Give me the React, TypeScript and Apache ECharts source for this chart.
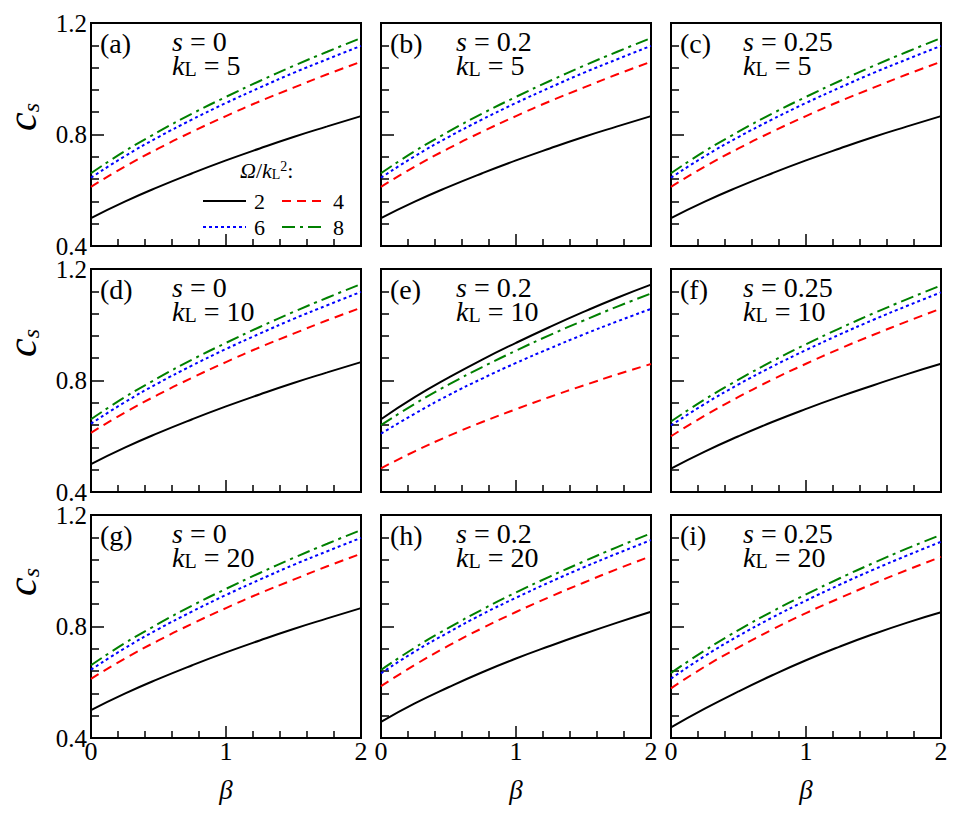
import React, { useEffect, useRef } from "react";
import * as echarts from "echarts";

const FONT = "Liberation Serif";

const betas = [0, 0.25, 0.5, 0.75, 1, 1.25, 1.5, 1.75, 2];
const ratioNames = ["2", "4", "6", "8"];
const xTickValues = [0, 1, 2];
const yTickValues = [0.4, 0.8, 1.2];

// panels (a), (b), (c), (d), (g)
const base2 = [0.5, 0.559, 0.612, 0.661, 0.707, 0.75, 0.791, 0.829, 0.866];
const base4 = [0.612, 0.685, 0.75, 0.81, 0.866, 0.919, 0.968, 1.016, 1.061];
const base6 = [0.645, 0.722, 0.791, 0.854, 0.913, 0.968, 1.021, 1.07, 1.118];
const base8 = [0.661, 0.74, 0.81, 0.875, 0.935, 0.992, 1.046, 1.097, 1.146];
// panel (e)
const e2 = [0.661, 0.74, 0.81, 0.875, 0.935, 0.992, 1.046, 1.097, 1.144];
const e4 = [0.485, 0.546, 0.601, 0.651, 0.697, 0.741, 0.782, 0.822, 0.859];
const e6 = [0.609, 0.681, 0.747, 0.807, 0.863, 0.915, 0.965, 1.012, 1.057];
const e8 = [0.64, 0.716, 0.785, 0.848, 0.907, 0.963, 1.015, 1.065, 1.112];
// panel (f)
const f2 = [0.484, 0.545, 0.6, 0.651, 0.698, 0.742, 0.783, 0.823, 0.86];
const f4 = [0.6, 0.674, 0.741, 0.803, 0.86, 0.914, 0.964, 1.012, 1.058];
const f6 = [0.639, 0.716, 0.786, 0.85, 0.909, 0.965, 1.018, 1.068, 1.116];
const f8 = [0.653, 0.732, 0.803, 0.869, 0.93, 0.987, 1.041, 1.092, 1.141];
// panel (h)
const h2 = [0.458, 0.524, 0.582, 0.636, 0.685, 0.73, 0.773, 0.814, 0.853];
const h4 = [0.586, 0.662, 0.731, 0.794, 0.852, 0.906, 0.957, 1.006, 1.052];
const h6 = [0.632, 0.71, 0.779, 0.844, 0.903, 0.959, 1.012, 1.062, 1.11];
const h8 = [0.644, 0.724, 0.795, 0.861, 0.922, 0.979, 1.033, 1.085, 1.134];
// panel (i)
const i2 = [0.438, 0.505, 0.567, 0.625, 0.679, 0.728, 0.773, 0.814, 0.851];
const i4 = [0.578, 0.656, 0.725, 0.789, 0.848, 0.902, 0.954, 1.003, 1.05];
const i6 = [0.613, 0.694, 0.766, 0.832, 0.893, 0.95, 1.004, 1.055, 1.104];
const i8 = [0.633, 0.714, 0.787, 0.854, 0.915, 0.973, 1.028, 1.08, 1.129];

const panelLetters = ["a", "b", "c", "d", "e", "f", "g", "h", "i"];
const sValues = ["0", "0.2", "0.25", "0", "0.2", "0.25", "0", "0.2", "0.25"];
const kValues = ["5", "5", "5", "10", "10", "10", "20", "20", "20"];
const panelCurves = [
  [base2, base4, base6, base8],
  [base2, base4, base6, base8],
  [base2, base4, base6, base8],
  [base2, base4, base6, base8],
  [e2, e4, e6, e8],
  [f2, f4, f6, f8],
  [base2, base4, base6, base8],
  [h2, h4, h6, h8],
  [i2, i4, i6, i8],
];

const colLeft = [91, 381, 671];
const rowTop = [23, 269, 515];
const PW = 270;
const PH = 223;
const sOffset = [81, 75, 72];
const csY = [117, 343, 582];

const lineStyles = [
  { color: "#000000", width: 2, type: "solid" },
  { color: "#ff0000", width: 2, type: [9, 6] },
  { color: "#0000ff", width: 2, type: [3, 3] },
  { color: "#008000", width: 2, type: [13, 5, 3, 5] },
];

export default function App() {
  const ref = useRef<HTMLDivElement>(null);
  useEffect(() => {
    document.body.style.margin = "0";
    if (!ref.current) return;
    const chart = echarts.init(ref.current, undefined, { renderer: "svg" });

    const grids: any[] = [];
    const xAxes: any[] = [];
    const yAxes: any[] = [];
    const series: any[] = [];
    const graphics: any[] = [];

    const txt = { fontFamily: FONT, fill: "#000" };
    const rich = (size: number, subSize: number, lh: number, drop: number) => ({
      n: { ...txt, fontSize: size, lineHeight: lh, verticalAlign: "bottom" },
      i: { ...txt, fontSize: size, fontStyle: "italic", lineHeight: lh, verticalAlign: "bottom" },
      sub: { ...txt, fontSize: subSize, lineHeight: Math.max(2, lh - 2 * drop), verticalAlign: "bottom" },
      sup: { ...txt, fontSize: subSize, lineHeight: Math.max(2, lh - 2 * drop), verticalAlign: "top" },
    });

    for (let p = 0; p < 9; p++) {
      const r = Math.floor(p / 3);
      const c = p % 3;
      grids.push({
        left: colLeft[c],
        top: rowTop[r],
        width: PW,
        height: PH,
        show: true,
        borderColor: "#000",
        borderWidth: 2,
        backgroundColor: "transparent",
      });
      xAxes.push({
        type: "value",
        gridIndex: p,
        min: xTickValues[0],
        max: xTickValues[xTickValues.length - 1],
        interval: 1,
        axisLine: { show: true, onZero: false, lineStyle: { color: "#000", width: 2 } },
        axisTick: { show: true, inside: true, length: 12, lineStyle: { color: "#000", width: 1.5 } },
        minorTick: { show: true, splitNumber: 5, length: 7, lineStyle: { color: "#000", width: 1.5 } },
        splitLine: { show: false },
        minorSplitLine: { show: false },
        axisLabel: {
          show: r === 2,
          margin: 3,
          color: "#000",
          fontFamily: FONT,
          fontSize: 26,
          lineHeight: 20,
          formatter: (v: number) => String(v),
        },
        name: r === 2 ? "β" : "",
        nameLocation: "middle",
        nameGap: 38,
        nameTextStyle: { fontFamily: FONT, fontSize: 27, fontStyle: "italic", color: "#000" },
      });
      yAxes.push({
        type: "value",
        gridIndex: p,
        min: yTickValues[0],
        max: yTickValues[yTickValues.length - 1],
        interval: 0.4,
        axisLine: { show: true, onZero: false, lineStyle: { color: "#000", width: 2 } },
        axisTick: { show: true, inside: true, length: 13, lineStyle: { color: "#000", width: 1.5 } },
        minorTick: { show: true, splitNumber: 5, length: 8, lineStyle: { color: "#000", width: 1.5 } },
        splitLine: { show: false },
        minorSplitLine: { show: false },
        axisLabel: {
          show: c === 0,
          margin: 4,
          color: "#000",
          fontFamily: FONT,
          fontSize: 25,
          lineHeight: 18,
          formatter: (v: number) => v.toFixed(1),
        },
      });
      panelCurves[p].forEach((vals, j) => {
        series.push({
          type: "line",
          name: ratioNames[j],
          xAxisIndex: p,
          yAxisIndex: p,
          data: betas.map((b, k) => [b, vals[k]]),
          smooth: true,
          symbol: "none",
          lineStyle: lineStyles[j],
          itemStyle: { color: lineStyles[j].color },
          z: 2 + (j === 0 ? 1 : 0),
        });
      });

      graphics.push({
        type: "text",
        x: colLeft[c] + 9,
        y: rowTop[r] + 20,
        style: {
          text: `(${panelLetters[p]})`,
          fontFamily: FONT,
          fill: "#000",
          fontSize: 28,
          lineHeight: 22,
          align: "left",
          verticalAlign: "middle",
        },
      });
      graphics.push({
        type: "text",
        x: colLeft[c] + sOffset[c],
        y: rowTop[r] + 8,
        style: {
          text: `{i|s}{n| = ${sValues[p]}}\n{i|k}{sub|L}{n| = ${kValues[p]}}`,
          rich: rich(28, 20, 24, 7),
          align: "left",
          verticalAlign: "top",
        },
      });
    }

    // y-axis titles c_s
    for (let r = 0; r < 3; r++) {
      graphics.push({
        type: "text",
        x: 28,
        y: csY[r],
        rotation: Math.PI / 2,
        style: {
          text: "{c|c}{s|s}",
          rich: {
            c: { ...txt, fontSize: 42, fontStyle: "italic", lineHeight: 30, verticalAlign: "bottom" },
            s: { ...txt, fontSize: 24, fontStyle: "italic", lineHeight: 10, verticalAlign: "bottom" },
          },
          align: "center",
          verticalAlign: "middle",
        },
      });
    }

    // legend title Ω/k_L^2:
    graphics.push({
      type: "text",
      x: 240,
      y: 170,
      style: {
        text: "{i|Ω}{n|/}{i|k}{sub|L}{sup|2}{n|:}",
        rich: rich(22, 14, 22, 7),
        align: "left",
        verticalAlign: "middle",
      },
    });

    chart.setOption({
      animation: false,
      backgroundColor: "#ffffff",
      grid: grids,
      xAxis: xAxes,
      yAxis: yAxes,
      series,
      legend: {
        show: true,
        data: ratioNames,
        left: 197,
        top: 185,
        width: 160,
        orient: "horizontal",
        itemWidth: 43,
        itemHeight: 12,
        itemGap: 4,
        selectedMode: false,
        itemStyle: { color: "rgba(0,0,0,0)", borderColor: "rgba(0,0,0,0)", borderWidth: 0 },
        textStyle: {
          fontFamily: FONT,
          fontSize: 22,
          color: "#000",
          lineHeight: 22,
          padding: [0, 12, 0, 3],
        },
      },
      graphic: graphics,
    });

    return () => chart.dispose();
  }, []);

  return <div ref={ref} style={{ width: 959, height: 813 }} />;
}
